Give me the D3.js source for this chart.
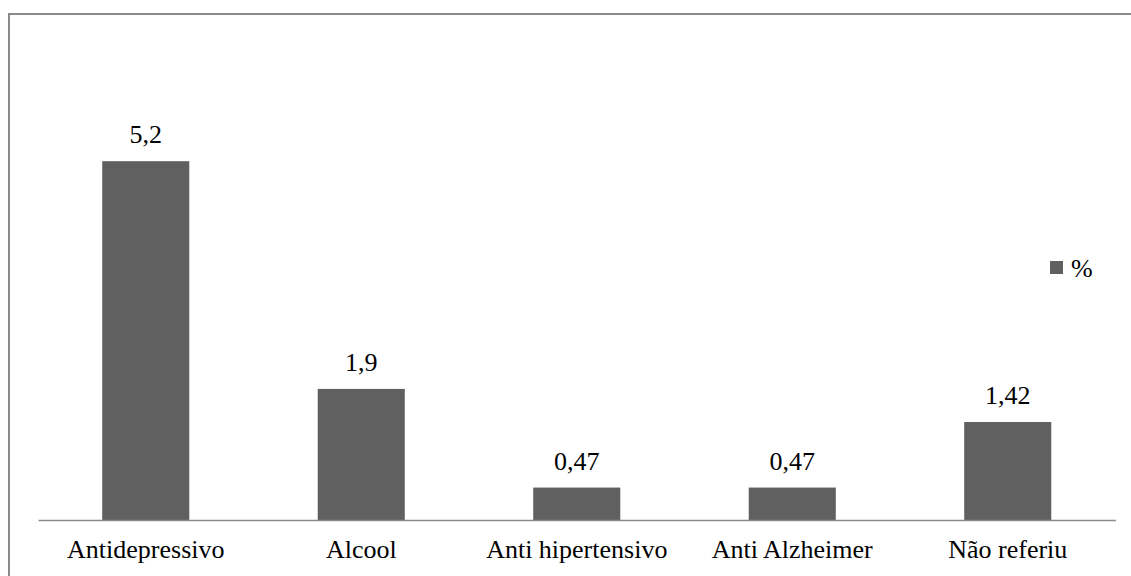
<!DOCTYPE html>
<html>
<head>
<meta charset="utf-8">
<script src="https://cdn.jsdelivr.net/npm/d3@7"></script>
</head>
<body style="margin:0; font-family: Tinos, 'Times New Roman', 'Liberation Serif';">
<script>
const categories = ["Antidepressivo", "Alcool", "Anti hipertensivo", "Anti Alzheimer", "Não referiu"];
const values = [5.2, 1.9, 0.47, 0.47, 1.42];
const valueLabels = ["5,2", "1,9", "0,47", "0,47", "1,42"];
const seriesName = "%";

const W = 1131, H = 576;
const FONT = "Tinos, 'Times New Roman', 'Liberation Serif'";
const FS = "26px";
const svg = d3.select("body").append("svg").attr("width", W).attr("height", H)
  .style("font-family", FONT);

// outer frame (cropped at right/bottom)
svg.append("rect").attr("x", 9).attr("y", 14).attr("width", 1300).attr("height", 800)
  .attr("fill", "none").attr("stroke", "#8a8a8a").attr("stroke-width", 2);

const x = d3.scaleBand().domain(categories).range([38, 1115.5])
  .paddingInner(0.596).paddingOuter(0.298);
const y = d3.scaleLinear().domain([0, 6]).range([520, 106]);

svg.selectAll("rect.bar").data(values).enter().append("rect")
  .attr("class", "bar")
  .attr("x", (d, i) => x(categories[i]))
  .attr("y", d => y(d))
  .attr("width", x.bandwidth())
  .attr("height", d => y(0) - y(d))
  .attr("fill", "#606060");

// axis
const axis = svg.append("g").attr("transform", `translate(0,${y(0)})`)
  .call(d3.axisBottom(x).tickSize(0).tickPadding(0));
axis.attr("font-family", null).attr("font-size", null);
axis.select(".domain").attr("stroke", "#8c8c8c").attr("stroke-width", 1.5);
axis.selectAll(".tick text")
  .style("font-family", FONT).style("font-size", FS)
  .attr("fill", "#000").attr("dy", null).attr("y", 38);

// value labels
svg.selectAll("text.val").data(values).enter().append("text")
  .attr("class", "val")
  .attr("x", (d, i) => x(categories[i]) + x.bandwidth() / 2)
  .attr("y", d => y(d) - 18)
  .attr("text-anchor", "middle")
  .style("font-family", FONT).style("font-size", FS).attr("fill", "#000")
  .text((d, i) => valueLabels[i]);

// legend
svg.append("rect").attr("x", 1050).attr("y", 261).attr("width", 13).attr("height", 13).attr("fill", "#606060");
svg.append("text").attr("x", 1071).attr("y", 277)
  .style("font-family", FONT).style("font-size", FS).attr("fill", "#000").text(seriesName);
</script>
</body>
</html>
